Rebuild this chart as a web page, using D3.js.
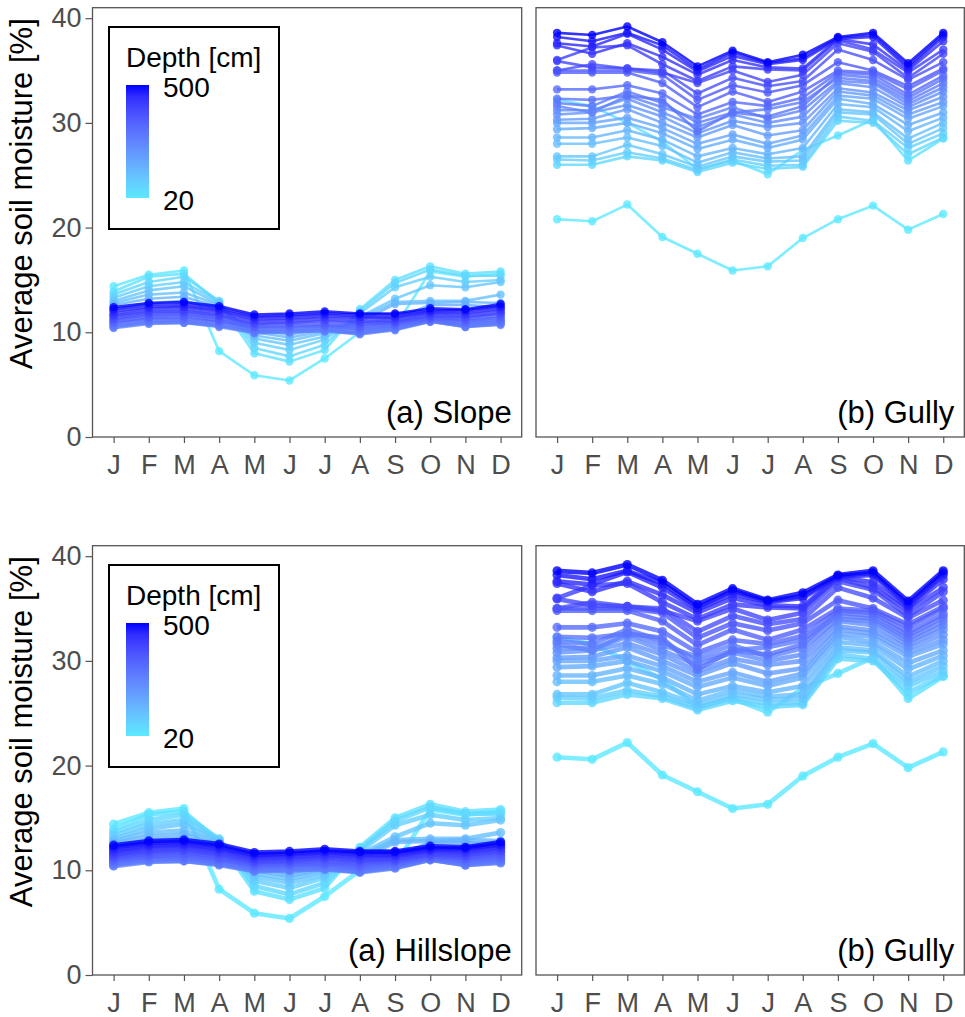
<html>
<meta charset="utf-8" />
<script src="https://d3js.org/d3.v7.min.js"></script>
<style>
  body { margin: 0; background: #fff; }
  text { font-family: "Liberation Sans", Arial, sans-serif; }
</style>
<body>
<svg id="chart" width="965" height="1017"></svg>
<script>
const months = ["J", "F", "M", "A", "M", "J", "J", "A", "S", "O", "N", "D"];
const depths = [20, 40, 60, 80, 100, 120, 140, 160, 180, 200, 220, 240, 260,
  280, 300, 320, 340, 360, 380, 400, 420, 440, 460, 480, 500];
const yTicks = [0, 10, 20, 30, 40];

// one row per depth (20 cm first), one value per month
const slopeMoisture = [
  [14.4, 15.5, 15.9, 8.2, 5.9, 5.4, 7.5, 10.0, 10.5, 15.8, 15.3, 15.6],
  [13.9, 15.3, 15.6, 12.8, 8.0, 7.2, 8.3, 12.2, 15.0, 16.3, 15.6, 15.8],
  [13.6, 14.8, 15.3, 13.0, 8.5, 7.7, 8.8, 12.0, 14.7, 16.0, 15.4, 15.4],
  [13.3, 14.4, 14.8, 12.9, 9.0, 8.3, 9.3, 11.8, 14.3, 15.3, 14.8, 15.0],
  [13.0, 14.0, 14.4, 12.7, 9.4, 8.8, 9.6, 11.5, 13.2, 14.5, 14.3, 14.8],
  [12.8, 13.6, 13.8, 12.6, 9.7, 9.2, 9.9, 11.3, 12.9, 13.0, 13.0, 13.6],
  [12.6, 13.2, 13.4, 12.4, 10.0, 9.5, 10.1, 11.0, 12.7, 12.8, 12.9, 12.8],
  [12.2, 12.8, 13.0, 12.2, 10.2, 9.8, 10.3, 10.9, 11.3, 12.6, 12.6, 12.4],
  [11.6, 12.0, 12.1, 11.7, 10.6, 10.4, 10.6, 10.6, 11.0, 11.8, 11.4, 11.8],
  [11.2, 11.6, 11.7, 11.3, 10.3, 10.2, 10.4, 10.3, 10.7, 11.5, 11.0, 11.4],
  [10.9, 11.3, 11.4, 11.0, 10.1, 10.1, 10.2, 10.0, 10.4, 11.2, 10.8, 11.1],
  [10.6, 11.0, 11.1, 10.7, 10.0, 10.0, 10.1, 9.9, 10.3, 11.1, 10.6, 10.9],
  [10.4, 10.8, 10.9, 10.5, 9.9, 10.0, 10.1, 9.8, 10.2, 11.0, 10.5, 10.7],
  [10.5, 10.9, 10.9, 10.6, 10.0, 10.1, 10.2, 9.9, 10.3, 11.0, 10.5, 10.8],
  [10.7, 11.1, 11.1, 10.8, 10.2, 10.3, 10.4, 10.1, 10.5, 11.1, 10.7, 11.0],
  [10.9, 11.3, 11.3, 11.0, 10.4, 10.5, 10.6, 10.3, 10.6, 11.2, 10.9, 11.2],
  [11.0, 11.4, 11.5, 11.1, 10.5, 10.6, 10.7, 10.5, 10.8, 11.3, 11.1, 11.4],
  [11.2, 11.6, 11.7, 11.3, 10.7, 10.8, 10.9, 10.7, 10.9, 11.4, 11.2, 11.6],
  [11.3, 11.8, 11.9, 11.5, 10.8, 10.9, 11.1, 10.9, 11.0, 11.5, 11.4, 11.8],
  [11.5, 11.9, 12.0, 11.6, 10.9, 11.0, 11.2, 11.0, 11.1, 11.6, 11.5, 11.9],
  [11.6, 12.1, 12.2, 11.8, 11.1, 11.2, 11.4, 11.2, 11.3, 11.8, 11.7, 12.1],
  [11.8, 12.3, 12.4, 12.0, 11.2, 11.3, 11.5, 11.4, 11.4, 11.9, 11.8, 12.2],
  [12.0, 12.4, 12.5, 12.1, 11.4, 11.5, 11.7, 11.5, 11.5, 12.0, 12.0, 12.4],
  [12.2, 12.6, 12.7, 12.3, 11.5, 11.6, 11.8, 11.7, 11.7, 12.1, 12.1, 12.5],
  [12.4, 12.8, 12.9, 12.5, 11.7, 11.8, 12.0, 11.8, 11.8, 12.3, 12.2, 12.7]
];

const gullyMoisture = [
  [20.8, 20.6, 22.2, 19.1, 17.5, 15.9, 16.3, 19.0, 20.8, 22.1, 19.8, 21.3],
  [32.2, 31.6, 30.0, 28.2, 25.6, 26.4, 25.1, 27.4, 28.8, 30.3, 26.4, 28.5],
  [26.0, 26.0, 26.8, 26.4, 25.3, 26.2, 25.6, 25.8, 30.2, 30.0, 27.0, 28.6],
  [26.5, 26.4, 27.2, 26.6, 25.5, 26.5, 25.9, 26.0, 30.6, 30.2, 27.6, 29.0],
  [26.8, 26.8, 27.9, 27.0, 25.8, 26.8, 26.3, 26.4, 31.0, 30.8, 28.0, 29.5],
  [28.0, 28.0, 28.6, 27.8, 26.2, 27.2, 26.6, 26.8, 31.3, 31.0, 28.5, 30.0],
  [28.6, 28.6, 29.3, 28.4, 26.8, 27.6, 27.0, 27.6, 31.8, 31.5, 29.2, 30.5],
  [29.4, 29.5, 30.0, 29.0, 27.5, 28.4, 27.6, 28.4, 32.3, 31.8, 29.8, 31.0],
  [30.0, 30.0, 30.5, 29.5, 28.0, 28.9, 28.0, 28.8, 32.6, 32.3, 30.4, 31.6],
  [30.3, 30.4, 31.3, 30.0, 28.6, 29.8, 28.8, 29.3, 33.0, 32.6, 30.8, 32.0],
  [30.8, 31.0, 31.7, 30.6, 29.0, 30.2, 29.6, 30.0, 33.3, 32.9, 31.2, 32.5],
  [31.2, 31.2, 32.3, 31.0, 29.6, 30.8, 30.0, 30.6, 33.8, 33.4, 31.5, 33.0],
  [31.6, 31.0, 32.6, 31.5, 30.4, 31.5, 30.4, 31.2, 34.0, 33.8, 31.8, 33.4],
  [31.9, 31.6, 33.0, 31.9, 30.0, 31.0, 31.3, 32.0, 34.3, 34.0, 32.1, 33.8],
  [32.3, 32.2, 32.6, 32.2, 29.2, 31.0, 30.6, 31.6, 34.6, 34.3, 32.4, 34.2],
  [33.2, 33.2, 33.6, 32.8, 30.8, 32.0, 31.6, 32.4, 34.8, 34.6, 32.7, 34.5],
  [34.8, 34.8, 34.8, 33.8, 31.5, 33.0, 32.0, 33.0, 35.0, 34.8, 33.2, 35.0],
  [35.0, 35.0, 35.0, 34.6, 32.2, 33.6, 32.9, 33.6, 35.8, 35.0, 33.5, 35.2],
  [35.0, 35.6, 35.2, 35.0, 32.8, 34.3, 33.5, 34.0, 37.0, 36.0, 34.1, 35.8],
  [35.9, 35.3, 35.2, 34.8, 33.8, 35.0, 33.9, 34.6, 37.6, 36.8, 34.3, 36.6],
  [36.0, 37.2, 37.4, 35.6, 34.0, 35.4, 35.1, 35.0, 37.9, 37.0, 34.8, 37.0],
  [37.4, 36.6, 37.6, 36.3, 34.6, 36.0, 35.3, 35.2, 38.0, 37.5, 35.0, 37.8],
  [37.6, 37.3, 38.5, 37.0, 34.9, 36.4, 35.6, 36.0, 38.0, 38.2, 35.2, 38.2],
  [38.2, 37.8, 38.6, 37.4, 35.1, 36.7, 35.7, 36.2, 38.1, 38.4, 35.4, 38.4],
  [38.6, 38.4, 39.2, 37.7, 35.4, 36.9, 35.8, 36.5, 38.2, 38.6, 35.7, 38.6]
];

const svg = d3.select("#chart");
const color = d3.scaleLinear().domain([20, 500])
  .range(["#5ce9ff", "#0000ff"]).interpolate(d3.interpolateLab);

const rows = [
  { top: 7.7, bottom: 437, lw: 2.6, r: 4.2, labelA: "(a) Slope", legendY: 27 },
  { top: 545.7, bottom: 975, lw: 4.6, r: 4.6, labelA: "(a) Hillslope", legendY: 565 }
];
const cols = [
  { left: 92.5, right: 521.7, data: slopeMoisture, ticks: true },
  { left: 536, right: 964.3, data: gullyMoisture, ticks: false }
];

// gradient for colour bar
const grad = svg.append("defs").append("linearGradient")
  .attr("id", "depthGrad").attr("x1", 0).attr("y1", 1).attr("x2", 0).attr("y2", 0);
d3.range(0, 1.01, 0.1).forEach(t => {
  grad.append("stop").attr("offset", t).attr("stop-color", color(20 + t * 480));
});

rows.forEach((row, ri) => {
  const y = d3.scaleLinear().domain([0, 41]).range([row.bottom, row.top]);

  cols.forEach((col, ci) => {
    const x = d3.scalePoint().domain(d3.range(12)).range([col.left, col.right]).padding(0.6);
    const g = svg.append("g");

    // axes
    const ax = g.append("g").attr("transform", `translate(0,${row.bottom})`)
      .call(d3.axisBottom(x).tickSize(6).tickPadding(12).tickFormat(i => months[i]));
    ax.select(".domain").remove();
    ax.selectAll("line").attr("stroke", "#555").attr("stroke-width", 1.2);
    ax.selectAll("text").attr("fill", "#4d4d4d").attr("font-size", 27)
      .attr("font-family", "Liberation Sans, Arial, sans-serif");

    if (col.ticks) {
      const ay = g.append("g").attr("transform", `translate(${col.left},0)`)
        .call(d3.axisLeft(y).tickValues(yTicks).tickSize(7).tickPadding(4));
      ay.select(".domain").remove();
      ay.selectAll("line").attr("stroke", "#555").attr("stroke-width", 1.2);
      ay.selectAll("text").attr("fill", "#4d4d4d").attr("font-size", 27)
        .attr("font-family", "Liberation Sans, Arial, sans-serif");
    }

    // series, shallow first so deep lines sit on top
    const line = d3.line().x((d, i) => x(i)).y(d => y(d));
    col.data.forEach((vals, k) => {
      const c = color(depths[k]);
      g.append("path").attr("d", line(vals)).attr("fill", "none")
        .attr("stroke", c).attr("stroke-width", row.lw).attr("opacity", 0.8)
        .attr("stroke-linejoin", "round");
      g.selectAll(null).data(vals).enter().append("circle")
        .attr("cx", (d, i) => x(i)).attr("cy", d => y(d)).attr("r", row.r)
        .attr("fill", c).attr("opacity", 0.8);
    });

    // panel border
    g.append("rect").attr("x", col.left).attr("y", row.top)
      .attr("width", col.right - col.left).attr("height", row.bottom - row.top)
      .attr("fill", "none").attr("stroke", "#555").attr("stroke-width", 1.3);

    g.append("text").attr("x", col.right - 10).attr("y", row.bottom - 14)
      .attr("text-anchor", "end").attr("font-size", 31).attr("fill", "#000")
      .text(ci === 0 ? row.labelA : "(b) Gully");
  });

  // y title
  svg.append("text")
    .attr("transform", `translate(32,${row.top + 186}) rotate(-90)`)
    .attr("text-anchor", "middle").attr("font-size", 31)
    .text("Average soil moisture [%]");

  // legend
  const lg = svg.append("g").attr("transform", `translate(109,${row.legendY})`);
  lg.append("rect").attr("width", 170).attr("height", 202)
    .attr("fill", "#fff").attr("stroke", "#000").attr("stroke-width", 2);
  lg.append("text").attr("x", 17).attr("y", 40).attr("font-size", 28).text("Depth [cm]");
  const ly = d3.scaleLinear().domain([20, 500]).range([171, 58]);
  lg.append("rect").attr("x", 17).attr("y", ly(500)).attr("width", 23)
    .attr("height", ly(20) - ly(500)).attr("fill", "url(#depthGrad)");
  [20, 500].forEach(v => {
    lg.append("text").attr("x", 54).attr("y", ly(v) + 2).attr("dy", "0.36em")
      .attr("font-size", 28).text(v);
  });
});
</script>
</body>
</html>
